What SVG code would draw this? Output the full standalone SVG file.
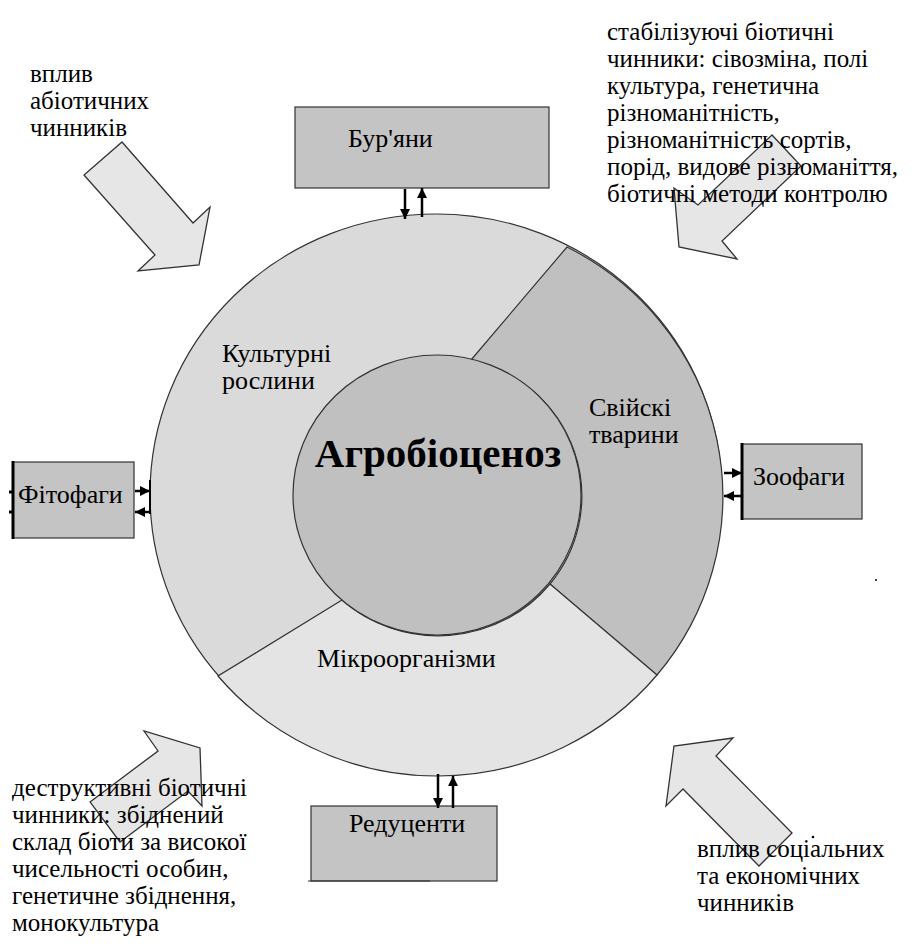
<svg xmlns="http://www.w3.org/2000/svg" width="920" height="946" viewBox="0 0 920 946">
  <defs>
    <marker id="head" viewBox="0 0 10 10" refX="10" refY="5" markerWidth="10" markerHeight="10" markerUnits="userSpaceOnUse" orient="auto">
      <path d="M0,0 L10,5 L0,10 z" fill="#000"/>
    </marker>
  </defs>
  <rect width="920" height="946" fill="#fff"/>

  <!-- block arrows of outside influences -->
  <g id="influences" fill="#e6e6e6" stroke="#333" stroke-width="1.3">
    <polygon points="122,142 193,223 210,207 199,265 138,271 155,255 84,175"/>
    <polygon points="772,135 698,205 674,188 679,247 737,259 722,241 801,166"/>
    <polygon points="90,802 158,751 144,731 200,748 202,806 188,791 120,842"/>
    <polygon points="792,833 716,756 733,738 674,746 666,806 683,789 759,866"/>
  </g>

  <!-- ring of the agrobiocenosis -->
  <g id="ring" stroke="#333" stroke-width="1.2">
    <ellipse id="crops-area" cx="436" cy="494" rx="286" ry="280" fill="#dadada"/>
    <path id="livestock-area" fill="#c0c0c0" d="M471,360 L567,247 A286,280 0 0 1 657,675 L550,584 A144,140 0 0 0 471,360 Z"/>
    <path id="microbes-area" fill="#e4e4e4" d="M342,600 L218,676 A286,280 0 0 0 657,675 L550,584 A144,140 0 0 1 342,600 Z"/>
    <ellipse id="core-area" cx="437" cy="495" rx="144" ry="140" fill="#c0c0c0"/>
  </g>
  <g id="crops" font-family="Liberation Serif" font-size="26">
    <text x="222" y="362">&#x41A;&#x443;&#x43B;&#x44C;&#x442;&#x443;&#x440;&#x43D;&#x456;</text>
    <text x="222" y="389">&#x440;&#x43E;&#x441;&#x43B;&#x438;&#x43D;&#x438;</text>
  </g>
  <g id="livestock" font-family="Liberation Serif" font-size="26">
    <text x="589" y="416">&#x421;&#x432;&#x456;&#x439;&#x441;&#x43A;&#x456;</text>
    <text x="589" y="443">&#x442;&#x432;&#x430;&#x440;&#x438;&#x43D;&#x438;</text>
  </g>
  <g id="microbes" font-family="Liberation Serif" font-size="26">
    <text x="317" y="667">Мікроорганізми</text>
  </g>
  <g id="core" font-family="Liberation Serif" font-size="41" font-weight="bold">
    <text x="438" y="467" text-anchor="middle">Агробіоценоз</text>
  </g>

  <!-- surrounding groups -->
  <g id="weeds">
    <rect x="295" y="107" width="254" height="81" fill="#c4c4c4" stroke="#333" stroke-width="1.2"/>
    <text x="348" y="147" font-family="Liberation Serif" font-size="26">&#x411;&#x443;&#x440;'&#x44F;&#x43D;&#x438;</text>
  </g>
  <g id="phytophages">
    <rect x="13" y="462" width="121" height="76" fill="#c4c4c4" stroke="#333" stroke-width="1.2"/>
    <path d="M13,461 V539 M9,492 H13 M9,512 H13" stroke="#000" stroke-width="3"/>
    <text x="18" y="503" font-family="Liberation Serif" font-size="26">&#x424;&#x456;&#x442;&#x43E;&#x444;&#x430;&#x433;&#x438;</text>
  </g>
  <g id="zoophages">
    <rect x="742" y="444" width="120" height="75" fill="#c4c4c4" stroke="#333" stroke-width="1.2"/>
    <path d="M742,443 V520" stroke="#000" stroke-width="3"/>
    <text x="753" y="485" font-family="Liberation Serif" font-size="26">Зоофаги</text>
  </g>
  <g id="reducers">
    <rect x="311" y="806" width="186" height="75" fill="#c4c4c4" stroke="#333" stroke-width="1.2"/>
    <path d="M308,881 H430" stroke="#333" stroke-width="1.2"/>
    <text x="349" y="832" font-family="Liberation Serif" font-size="26">Редуценти</text>
  </g>

  <!-- two-way exchange between the ring and the groups -->
  <g id="connectors" stroke="#000" stroke-width="2.5" fill="none">
    <line x1="405" y1="189" x2="405" y2="219" marker-end="url(#head)"/>
    <line x1="422" y1="217" x2="422" y2="188" marker-end="url(#head)"/>
    <line x1="150" y1="480" x2="150" y2="514" stroke-width="2"/>
    <line x1="135" y1="491" x2="150" y2="491" marker-end="url(#head)"/>
    <line x1="150" y1="512" x2="135" y2="512" marker-end="url(#head)"/>
    <line x1="724" y1="473" x2="742" y2="473" marker-end="url(#head)"/>
    <line x1="742" y1="496" x2="724" y2="496" marker-end="url(#head)"/>
    <line x1="438" y1="774" x2="438" y2="808" marker-end="url(#head)"/>
    <line x1="453" y1="808" x2="453" y2="776" marker-end="url(#head)"/>
  </g>

  <!-- notes on the factors -->
  <g id="abiotic" font-family="Liberation Serif" font-size="25">
    <text x="30" y="82">&#x432;&#x43F;&#x43B;&#x438;&#x432;</text>
    <text x="30" y="109">&#x430;&#x431;&#x456;&#x43E;&#x442;&#x438;&#x447;&#x43D;&#x438;&#x445;</text>
    <text x="30" y="136">&#x447;&#x438;&#x43D;&#x43D;&#x438;&#x43A;&#x456;&#x432;</text>
  </g>
  <g id="stabilizing" font-family="Liberation Serif" font-size="25">
    <text x="607" y="40">&#x441;&#x442;&#x430;&#x431;&#x456;&#x43B;&#x456;&#x437;&#x443;&#x44E;&#x447;&#x456; &#x431;&#x456;&#x43E;&#x442;&#x438;&#x447;&#x43D;&#x456;</text>
    <text x="607" y="67">&#x447;&#x438;&#x43D;&#x43D;&#x438;&#x43A;&#x438;: &#x441;&#x456;&#x432;&#x43E;&#x437;&#x43C;&#x456;&#x43D;&#x430;, &#x43F;&#x43E;&#x43B;&#x456;</text>
    <text x="607" y="94">&#x43A;&#x443;&#x43B;&#x44C;&#x442;&#x443;&#x440;&#x430;, &#x433;&#x435;&#x43D;&#x435;&#x442;&#x438;&#x447;&#x43D;&#x430;</text>
    <text x="607" y="121">&#x440;&#x456;&#x437;&#x43D;&#x43E;&#x43C;&#x430;&#x43D;&#x456;&#x442;&#x43D;&#x456;&#x441;&#x442;&#x44C;,</text>
    <text x="607" y="148">&#x440;&#x456;&#x437;&#x43D;&#x43E;&#x43C;&#x430;&#x43D;&#x456;&#x442;&#x43D;&#x456;&#x441;&#x442;&#x44C; &#x441;&#x43E;&#x440;&#x442;&#x456;&#x432;,</text>
    <text x="607" y="175">&#x43F;&#x43E;&#x440;&#x456;&#x434;, &#x432;&#x438;&#x434;&#x43E;&#x432;&#x435; &#x440;&#x456;&#x437;&#x43D;&#x43E;&#x43C;&#x430;&#x43D;&#x456;&#x442;&#x442;&#x44F;,</text>
    <text x="607" y="202">&#x431;&#x456;&#x43E;&#x442;&#x438;&#x447;&#x43D;&#x456; &#x43C;&#x435;&#x442;&#x43E;&#x434;&#x438; &#x43A;&#x43E;&#x43D;&#x442;&#x440;&#x43E;&#x43B;&#x44E;</text>
  </g>
  <g id="destructive" font-family="Liberation Serif" font-size="25">
    <text x="12" y="796">&#x434;&#x435;&#x441;&#x442;&#x440;&#x443;&#x43A;&#x442;&#x438;&#x432;&#x43D;&#x456; &#x431;&#x456;&#x43E;&#x442;&#x438;&#x447;&#x43D;&#x456;</text>
    <text x="12" y="823">&#x447;&#x438;&#x43D;&#x43D;&#x438;&#x43A;&#x438;: &#x437;&#x431;&#x456;&#x434;&#x43D;&#x435;&#x43D;&#x438;&#x439;</text>
    <text x="12" y="850">&#x441;&#x43A;&#x43B;&#x430;&#x434; &#x431;&#x456;&#x43E;&#x442;&#x438; &#x437;&#x430; &#x432;&#x438;&#x441;&#x43E;&#x43A;&#x43E;&#x457;</text>
    <text x="12" y="877">&#x447;&#x438;&#x441;&#x435;&#x43B;&#x44C;&#x43D;&#x43E;&#x441;&#x442;&#x456; &#x43E;&#x441;&#x43E;&#x431;&#x438;&#x43D;,</text>
    <text x="12" y="904">&#x433;&#x435;&#x43D;&#x435;&#x442;&#x438;&#x447;&#x43D;&#x435; &#x437;&#x431;&#x456;&#x434;&#x43D;&#x435;&#x43D;&#x43D;&#x44F;,</text>
    <text x="12" y="931">&#x43C;&#x43E;&#x43D;&#x43E;&#x43A;&#x443;&#x43B;&#x44C;&#x442;&#x443;&#x440;&#x430;</text>
  </g>
  <g id="social" font-family="Liberation Serif" font-size="25">
    <text x="697" y="857">&#x432;&#x43F;&#x43B;&#x438;&#x432; &#x441;&#x43E;&#x446;&#x456;&#x430;&#x43B;&#x44C;&#x43D;&#x438;&#x445;</text>
    <text x="697" y="884">&#x442;&#x430; &#x435;&#x43A;&#x43E;&#x43D;&#x43E;&#x43C;&#x456;&#x447;&#x43D;&#x438;&#x445;</text>
    <text x="697" y="911">&#x447;&#x438;&#x43D;&#x43D;&#x438;&#x43A;&#x456;&#x432;</text>
  </g>
  <circle cx="813" cy="837" r="1.3" fill="#000"/>
  <circle cx="876" cy="580" r="1" fill="#000"/>
</svg>
